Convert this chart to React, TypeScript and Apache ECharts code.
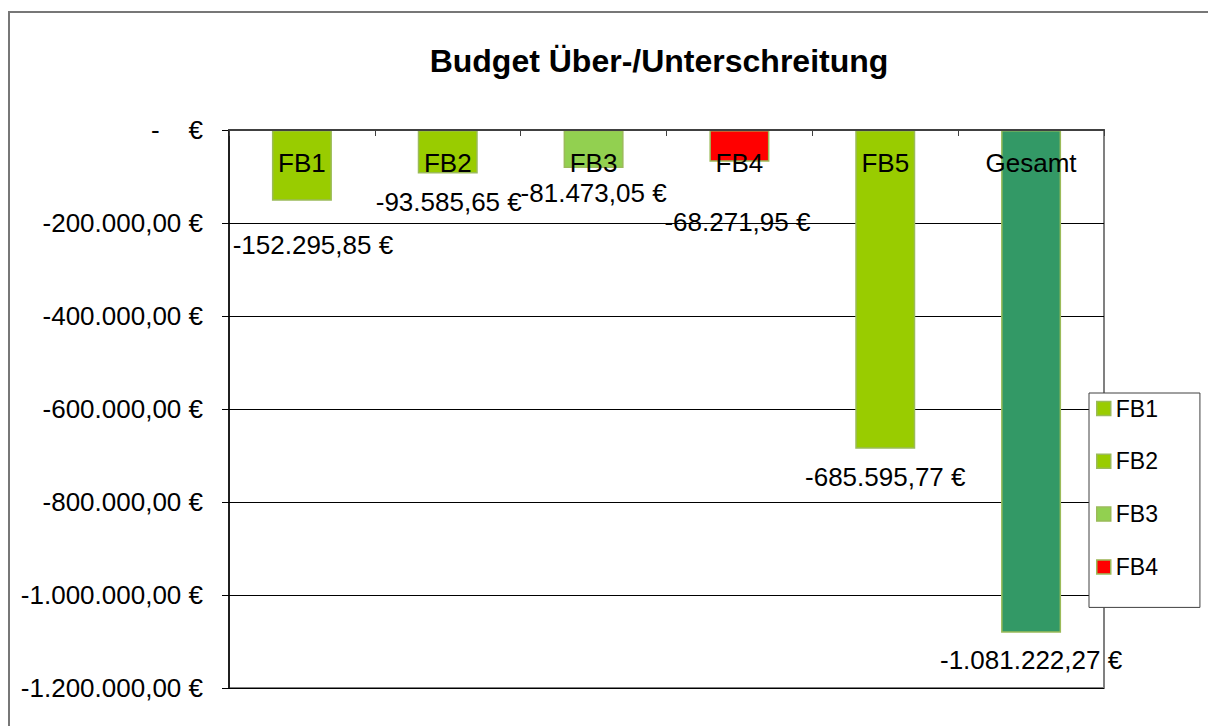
import React, { useEffect, useRef } from "react";
import * as echarts from "echarts";

const categories = ["FB1", "FB2", "FB3", "FB4", "FB5", "Gesamt"];
const values = [-152295.85, -93585.65, -81473.05, -68271.95, -685595.77, -1081222.27];
const barColors = ["#99CC00", "#99CC00", "#92D050", "#FF0000", "#99CC00", "#339966"];
const legendItems = ["FB1", "FB2", "FB3", "FB4"];
const labelOffsets: number[][] = [[11, 31], [1, 15], [0, 12], [-2, 47], [0, 15], [0, 14]];
const yTicks = { min: -1200000, max: 0, interval: 200000 };

const FONT = "'Liberation Sans', Arial, sans-serif";

function fmtEuro(v: number): string {
  if (v === 0) return "-    €";
  const neg = v < 0;
  const a = Math.abs(v);
  const fixed = a.toFixed(2);
  const [intPart, dec] = fixed.split(".");
  const grouped = intPart.replace(/\B(?=(\d{3})+(?!\d))/g, ".");
  return (neg ? "-" : "") + grouped + "," + dec + " €";
}

export default function App() {
  const ref = useRef<HTMLDivElement>(null);
  useEffect(() => {
    if (!ref.current) return;
    const chart = echarts.init(ref.current, null, { renderer: "svg" });
    const series = categories.map((c, i) => ({
      name: c,
      type: "bar",
      stack: "all",
      barWidth: 60,
      data: categories.map((_, j) => (j === i ? values[i] : "-")),
      itemStyle: { color: barColors[i], borderColor: "#9BBB59", borderWidth: 1.5 },
      label: {
        show: true,
        position: "bottom",
        distance: 0,
        offset: labelOffsets[i],
        formatter: (p: any) => fmtEuro(p.value),
        fontFamily: FONT,
        fontSize: 26,
        color: "#000",
      },
    }));
    chart.setOption({
      animation: false,
      backgroundColor: "#fff",
      title: {
        text: "Budget Über-/Unterschreitung",
        left: 654,
        textAlign: "center",
        top: 40,
        textStyle: { fontFamily: FONT, fontSize: 32, fontWeight: "bold", color: "#000" },
      },
      legend: {
        data: legendItems,
        orient: "vertical",
        left: 1089,
        top: 393,
        padding: [4, 42, 29, 7],
        itemGap: 29.8,
        itemWidth: 14,
        itemHeight: 14,
        itemStyle: { borderColor: "#9BBB59", borderWidth: 1.5 },
        icon: "rect",
        backgroundColor: "#fff",
        borderColor: "#404040",
        borderWidth: 1,
        borderRadius: 0,
        textStyle: { fontFamily: FONT, fontSize: 23, color: "#000", lineHeight: 22 },
      },
      grid: {
        left: 229,
        top: 130,
        width: 875,
        height: 558,
        show: true,
        borderColor: "#808080",
        borderWidth: 2,
        containLabel: false,
      },
      xAxis: {
        type: "category",
        position: "top",
        data: categories,
        axisLine: { show: true, lineStyle: { color: "#404040", width: 2 } },
        axisTick: { show: true, inside: true, length: 6, lineStyle: { color: "#404040" } },
        axisLabel: {
          inside: true,
          margin: 20,
          fontFamily: FONT,
          fontSize: 26,
          color: "#000",
        },
        z: 5,
      },
      yAxis: {
        type: "value",
        min: yTicks.min,
        max: yTicks.max,
        interval: yTicks.interval,
        axisLine: { show: true, lineStyle: { color: "#000", width: 1.5 } },
        axisTick: { show: true, length: 7, lineStyle: { color: "#000" } },
        splitLine: { show: true, lineStyle: { color: "#000", width: 1 } },
        axisLabel: {
          margin: 26,
          formatter: (v: number) => fmtEuro(v),
          fontFamily: FONT,
          fontSize: 26,
          color: "#000",
        },
      },
      graphic: [
        {
          type: "rect",
          shape: { x: 9, y: 12, width: 1400, height: 900 },
          style: { fill: "none", stroke: "#777", lineWidth: 2 },
          silent: true,
          z: -10,
        },
      ],
      series,
    });
    return () => chart.dispose();
  }, []);
  return (
    <div
      ref={ref}
      style={{ position: "fixed", left: 0, top: 0, width: 1208, height: 726 }}
    />
  );
}
